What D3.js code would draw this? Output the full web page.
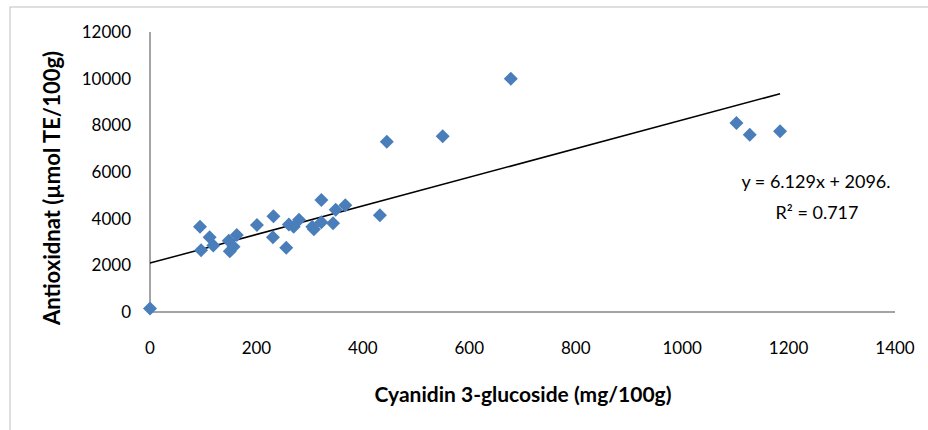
<!DOCTYPE html>
<html><head><meta charset="utf-8">
<script src="https://cdn.jsdelivr.net/npm/d3@7"></script>
<style>body{margin:0;background:#fff}svg{display:block;font-family:Lato,"Open Sans",sans-serif}</style>
</head><body><svg id="c" width="928" height="430"></svg>
<script>
const xValues = [0,94,96,112,119,148,150,157,163,201,232,231,256,261,270,280,305,308,322,322,344,349,367,432,445,550,678,1102,1127,1184];
const yValues = [150,3650,2650,3200,2850,3050,2600,2800,3300,3730,4100,3200,2750,3750,3650,3950,3650,3550,4800,3850,3800,4380,4580,4150,7300,7530,10000,8100,7600,7750];
const xTicks = [0,200,400,600,800,1000,1200,1400];
const yTicks = [0,2000,4000,6000,8000,10000,12000];
const slope = 6.129, intercept = 2096;
const eqLabel = "y = 6.129x + 2096.";
const r2Label = "R² = 0.717";
const xTitle = "Cyanidin 3-glucoside (mg/100g)";
const yTitle = "Antioxidnat (µmol TE/100g)";

const svg = d3.select("#c");
const x = d3.scaleLinear().domain([0,1400]).range([150,895]);
const y = d3.scaleLinear().domain([0,12000]).range([312,32]);

svg.append("rect").attr("x",10).attr("y",7).attr("width",940).attr("height",450)
  .attr("fill","none").attr("stroke","#bfbfbf").attr("stroke-width",1);

// axes
svg.append("line").attr("x1",x(0)).attr("x2",x(0)).attr("y1",y(12000)).attr("y2",y(0))
  .attr("stroke","#868686").attr("stroke-width",1.5);
svg.append("line").attr("x1",x(0)).attr("x2",x(1400)).attr("y1",y(0)).attr("y2",y(0))
  .attr("stroke","#868686").attr("stroke-width",1.5);

svg.append("g").selectAll("text").data(yTicks).join("text")
  .attr("x",131).attr("y",d=>y(d)).attr("dy","0.35em").attr("text-anchor","end")
  .attr("font-size",17).attr("fill","#000").text(d=>d);
svg.append("g").selectAll("text").data(xTicks).join("text")
  .attr("x",d=>x(d)).attr("y",348).attr("dy","0.35em").attr("text-anchor","middle")
  .attr("font-size",17).attr("fill","#000").text(d=>d);

// trendline
const xmax = d3.max(xValues);
svg.append("line").attr("x1",x(0)).attr("y1",y(intercept))
  .attr("x2",x(xmax)).attr("y2",y(slope*xmax+intercept))
  .attr("stroke","#000").attr("stroke-width",1.5);

// points
const pts = xValues.map((v,i)=>[v,yValues[i]]);
const r = 7;
svg.append("g").selectAll("path").data(pts).join("path")
  .attr("d",d=>{const cx=x(d[0]),cy=y(d[1]);return `M${cx},${cy-r}L${cx+r},${cy}L${cx},${cy+r}L${cx-r},${cy}Z`;})
  .attr("fill","#4a7ebb");

// equation
svg.append("text").attr("x",816).attr("y",182).attr("dy","0.35em").attr("text-anchor","middle")
  .attr("font-size",18).text(eqLabel);
svg.append("text").attr("x",817).attr("y",213).attr("dy","0.35em").attr("text-anchor","middle")
  .attr("font-size",18).text(r2Label);

// titles
svg.append("text").attr("x",523).attr("y",395).attr("dy","0.35em").attr("text-anchor","middle")
  .attr("font-size",21).attr("font-weight","bold").text(xTitle);
svg.append("text").attr("transform","translate(52,188) rotate(-90)").attr("dy","0.35em")
  .attr("text-anchor","middle").attr("font-size",22).attr("font-weight","bold").text(yTitle);
</script></body></html>
